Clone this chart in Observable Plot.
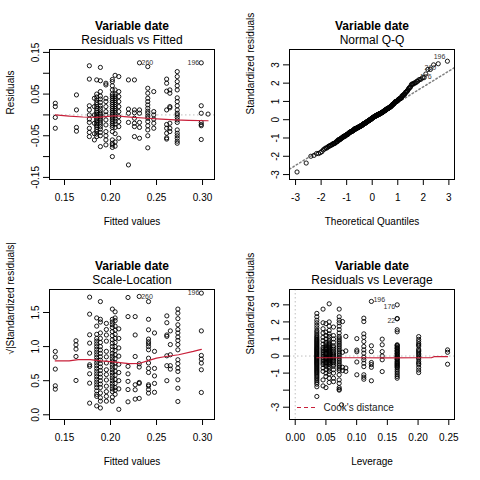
<!DOCTYPE html>
<html><head><meta charset="utf-8">
<script src="https://cdn.jsdelivr.net/npm/d3@7"></script>
<script src="https://cdn.jsdelivr.net/npm/@observablehq/plot@0.6"></script>
<style>
body{margin:0;background:#fff;}
#grid{display:grid;grid-template-columns:240px 240px;grid-template-rows:240px 240px;width:480px;height:480px;}
#grid svg{display:block}
</style></head><body><div id="grid"></div>
<script>
// ---------- Panel 1: Residuals vs Fitted ----------
const rvfFitted = [0.140, 0.163, 0.177, 0.1825, 0.185, 0.189, 0.195, 0.202, 0.205, 0.209, 0.2195, 0.226, 0.2315, 0.2405, 0.247, 0.261, 0.2645, 0.2725, 0.2986, 0.306];
const rvfResid = [
  [0.028, 0.020, -0.006, -0.032],
  [0.048, 0.012, -0.030, -0.039],
  [0.118, 0.086, 0.022, 0.012, 0.000, -0.010, -0.018, -0.032, -0.042, -0.052],
  [0.040, 0.020, 0.000, -0.020, -0.045, -0.060],
  [0.084, 0.050, 0.043, 0.036, 0.030, 0.025, 0.020, 0.015, 0.010, 0.006, 0.002, -0.002, -0.006, -0.010, -0.014, -0.018, -0.022, -0.026, -0.030, -0.035, -0.040, -0.046, -0.052],
  [0.114, 0.082, 0.056, 0.045, 0.038, 0.030, 0.022, 0.016, 0.010, 0.004, 0.000, -0.004, -0.008, -0.012, -0.017, -0.022, -0.028, -0.034, -0.042, -0.050, -0.076],
  [0.076, 0.072, 0.040, 0.032, 0.020, 0.008, 0.000, -0.012, -0.024, -0.040, -0.050, -0.060, -0.072],
  [0.085, 0.080, 0.070, 0.060, 0.050, 0.045, 0.040, 0.035, 0.030, 0.025, 0.020, 0.015, 0.010, 0.005, 0.000, -0.005, -0.010, -0.015, -0.020, -0.025, -0.030, -0.040, -0.060, -0.068, -0.072, -0.078, -0.100],
  [0.095, 0.060, 0.050, 0.045, 0.040, 0.035, 0.030, 0.025, 0.020, 0.015, 0.010, 0.005, -0.002, -0.008, -0.015, -0.022, -0.030, -0.045, -0.065, -0.075],
  [0.092, 0.056, 0.044, 0.032, 0.020, 0.008, -0.004, -0.016, -0.028, -0.056],
  [0.084, 0.014, 0.004, -0.018, -0.120],
  [0.084, 0.012, 0.005, -0.008, -0.020, -0.028, -0.052],
  [0.125, 0.012, 0.004, -0.018, -0.030, -0.056],
  [0.116, 0.064, 0.052, 0.040, 0.032, 0.024, 0.016, 0.009, 0.004, -0.003, -0.008, -0.016, -0.026, -0.036, -0.050, -0.079],
  [0.056, 0.008, 0.000, -0.010, -0.020, -0.032],
  [0.086, 0.076, 0.057, 0.012, -0.023, -0.032, -0.044, -0.055, -0.058],
  [0.060, 0.052, 0.020, 0.017, -0.020, -0.032, -0.040],
  [0.104, 0.092, 0.080, 0.070, 0.060, 0.041, 0.032, 0.022, 0.012, 0.004, 0.000, -0.006, -0.012, -0.018, -0.036, -0.044, -0.050, -0.056, -0.063, -0.068],
  [0.125, 0.022, 0.004, -0.018, -0.023, -0.026, -0.059],
  [0.002]
];
const rvfSmoothX = [0.140, 0.155, 0.170, 0.185, 0.195, 0.205, 0.215, 0.225, 0.240, 0.255, 0.270, 0.285, 0.306];
const rvfSmoothY = [0.000, -0.003, -0.005, -0.006, -0.004, -0.002, -0.004, -0.006, -0.008, -0.010, -0.012, -0.013, -0.014];
const rvfIdX = [0.2315, 0.2986];
const rvfIdY = [0.125, 0.125];
const rvfIdText = ["260", "196"];
const rvfXDomain = [0.1337, 0.313];
const rvfYDomain = [-0.155, 0.157];
const fitXTicks = [0.15, 0.20, 0.25, 0.30];
const rvfYTicks = [-0.15, -0.10, -0.05, 0, 0.05, 0.10, 0.15];
const rvfYLabels = [-0.15, -0.05, 0.05, 0.15];

// ---------- Panel 3: Scale-Location ----------
const slFitted = [0.140, 0.1625, 0.1773, 0.185, 0.189, 0.1955, 0.202, 0.205, 0.209, 0.219, 0.2268, 0.2312, 0.2413, 0.2478, 0.2612, 0.265, 0.2732, 0.2987];
const slValue = [
  [0.929, 0.846, 0.670, 0.425, 0.376],
  [1.085, 1.026, 0.963, 0.855, 0.503],
  [1.725, 1.476, 1.173, 1.051, 0.904, 0.733, 0.709, 0.601, 0.464, 0.171],
  [1.42, 1.30, 1.18, 1.12, 1.08, 1.04, 1.00, 0.96, 0.92, 0.88, 0.84, 0.80, 0.76, 0.72, 0.68, 0.64, 0.60, 0.56, 0.52, 0.48, 0.44, 0.40, 0.35, 0.30, 0.27, 0.13],
  [1.66, 1.40, 1.36, 1.20, 1.12, 1.06, 1.00, 0.95, 0.90, 0.85, 0.80, 0.75, 0.70, 0.65, 0.60, 0.55, 0.50, 0.45, 0.40, 0.32, 0.25, 0.20, 0.10],
  [1.34, 1.25, 1.17, 1.08, 0.93, 0.85, 0.76, 0.66, 0.59, 0.51, 0.42, 0.34, 0.27, 0.20],
  [1.55, 1.40, 1.36, 1.32, 1.28, 1.22, 1.16, 1.10, 1.05, 1.00, 0.95, 0.90, 0.86, 0.82, 0.78, 0.74, 0.70, 0.66, 0.62, 0.58, 0.54, 0.50, 0.46, 0.42, 0.38, 0.34, 0.26, 0.20],
  [1.51, 1.42, 1.38, 1.30, 1.24, 1.18, 1.12, 1.06, 1.00, 0.94, 0.88, 0.82, 0.76, 0.70, 0.64, 0.58, 0.52, 0.46, 0.40, 0.36, 0.30],
  [1.26, 1.12, 0.98, 0.86, 0.74, 0.62, 0.50, 0.38, 0.08],
  [1.72, 1.44, 0.71, 0.60, 0.49, 0.37, 0.19],
  [1.44, 1.17, 0.855, 0.44, 0.367, 0.23],
  [1.735, 0.748, 0.70, 0.474, 0.46, 0.24],
  [1.66, 1.40, 1.246, 1.11, 1.07, 1.04, 1.00, 0.953, 0.83, 0.76, 0.68, 0.62, 0.44, 0.42, 0.37, 0.318],
  [1.20, 0.93, 0.68, 0.57, 0.46, 0.33],
  [1.45, 1.35, 1.17, 1.15, 0.865, 0.72, 0.50],
  [1.23, 1.03, 0.88, 0.72, 0.67],
  [1.55, 1.49, 1.41, 1.32, 1.25, 1.20, 1.14, 1.09, 1.03, 0.953, 0.807, 0.75, 0.684, 0.635, 0.513, 0.39, 0.195],
  [1.784, 1.23, 0.87, 0.816, 0.758, 0.66, 0.327]
];
const slSmoothX = [0.140, 0.155, 0.165, 0.178, 0.190, 0.200, 0.210, 0.220, 0.232, 0.240, 0.250, 0.260, 0.274, 0.290, 0.2987];
const slSmoothY = [0.790, 0.790, 0.810, 0.810, 0.790, 0.780, 0.765, 0.750, 0.755, 0.790, 0.830, 0.855, 0.880, 0.930, 0.960];
const slIdX = [0.2312, 0.2987];
const slIdY = [1.735, 1.784];
const slIdText = ["260", "196"];
const slYDomain = [-0.069, 1.837];
const slYTicks = [0, 0.5, 1.0, 1.5];

// ---------- Panel 4: Residuals vs Leverage ----------
const levValues = [0.0352, 0.0453, 0.0500, 0.0553, 0.0623, 0.0716, 0.0754, 0.0770, 0.0824, 0.1003, 0.1117, 0.1240, 0.1416, 0.1660, 0.2010, 0.2480];
const levStdRes = [
  [2.50, 2.30, 2.10, 1.95, 1.80, 1.65, 1.50, 1.40, 1.30, 1.20, 1.12, 1.05, 0.98, 0.92, 0.86, 0.80, 0.74, 0.68, 0.62, 0.56, 0.50, 0.45, 0.40, 0.35, 0.30, 0.25, 0.20, 0.15, 0.10, 0.05, 0.00, -0.05, -0.10, -0.15, -0.20, -0.25, -0.30, -0.35, -0.40, -0.45, -0.50, -0.56, -0.62, -0.68, -0.74, -0.80, -0.86, -0.92, -0.98, -1.05, -1.12, -1.20, -1.28, -1.36, -1.45, -1.55, -1.65, -1.80, -2.37],
  [2.75, 1.95, 1.60, 1.35, 1.10, 0.90, 0.70, 0.50, 0.40, 0.30, 0.20, 0.10, 0.00, -0.10, -0.20, -0.30, -0.40, -0.50, -0.70, -0.90, -1.40, -1.75],
  [1.90, 1.40, 1.20, 1.00, 0.80, 0.70, 0.60, 0.50, 0.45, 0.38, 0.30, 0.22, 0.15, 0.08, 0.00, -0.08, -0.15, -0.22, -0.30, -0.38, -0.45, -0.52, -0.60, -0.80, -1.00, -1.20, -1.85],
  [3.06, 2.00, 1.75, 1.50, 1.30, 1.15, 1.00, 0.88, 0.76, 0.70, 0.64, 0.58, 0.52, 0.47, 0.42, 0.37, 0.32, 0.27, 0.22, 0.17, 0.12, 0.07, 0.02, -0.03, -0.08, -0.13, -0.18, -0.23, -0.28, -0.33, -0.38, -0.44, -0.50, -0.62, -0.75, -0.90, -1.05, -1.30, -1.55],
  [1.70, 1.20, 1.00, 0.80, 0.60, 0.50, 0.40, 0.30, 0.20, 0.12, 0.05, -0.02, -0.10, -0.18, -0.25, -0.32, -0.40, -0.50, -0.60, -0.80, -1.00, -1.30, -1.50],
  [2.75, 2.30, 2.10, 1.95, 1.75, 1.55, 1.35, 1.15, 1.05, 0.95, 0.85, 0.75, 0.65, 0.55, 0.45, 0.35, 0.25, 0.15, 0.05, -0.05, -0.15, -0.25, -0.35, -0.45, -0.55, -0.65, -0.75, -0.85, -1.10, -1.40, -1.60, -1.85, -1.95, -2.00],
  [-2.86],
  [2.02, 0.22, -0.66, -0.85],
  [1.15, 0.30, -0.70, -0.90],
  [1.02, 0.35, 0.25, -0.35, -1.10],
  [2.22, 2.02, 1.30, 1.10, 0.85, 0.56, 0.36, 0.17, -0.07, -0.22, -0.42, -0.62, -1.10, -1.24, -1.36],
  [3.20, 0.60, 0.26, -0.38, -0.50, -0.66, -1.45],
  [0.99, 0.66, 0.26, 0.00, -0.22, -0.91],
  [3.00, 2.20, 2.18, 1.54, 1.42, 0.66, 0.62, 0.58, 0.50, 0.46, 0.42, 0.34, 0.30, 0.26, 0.18, 0.14, 0.10, 0.02, -0.02, -0.06, -0.14, -0.18, -0.22, -0.30, -0.35, -0.40, -0.45, -0.50, -0.55, -0.60, -0.65, -0.70, -0.80, -0.90, -1.00, -1.10, -1.20, -1.30],
  [1.14, 0.98, 0.85, 0.72, 0.65, 0.58, 0.40, 0.32, 0.25, 0.16, 0.08, -0.02, -0.10, -0.18, -0.33, -0.42, -0.50, -0.66, -0.82, -0.97],
  [0.36, 0.22, -0.48]
];
const levSmoothX = [0.0352, 0.100, 0.150, 0.200, 0.222, 0.226, 0.248];
const levSmoothY = [-0.10, -0.10, -0.11, -0.10, -0.09, -0.04, -0.04];
const levIdX = [0.1240, 0.1660, 0.1660];
const levIdY = [3.20, 3.00, 2.18];
const levIdText = ["196", "176", "22"];
const levIdSide = ["right", "left", "left"];
const levXDomain = [-0.0093, 0.2593];
const levYDomain = [-3.72, 3.90];
const levXTicks = [0, 0.05, 0.10, 0.15, 0.20, 0.25];
const levYTicks = [-3, -2, -1, 0, 1, 2, 3];
const levYLabels = [-3, -1, 0, 1, 2, 3];

// ---------- Panel 2: Normal Q-Q (same standardized residuals) ----------
const qqIdText = ["196", "260", "176"];
const qqXDomain = [-3.237, 3.22];
const qqYDomain = [-3.27, 3.84];
const qqTicks = [-3, -2, -1, 0, 1, 2, 3];

// ---------- helpers ----------
const RED = "#C8203A";
const FONT = "'Liberation Sans', Arial, Helvetica, sans-serif";

function qnorm(p) {
  const a=[-3.969683028665376e+01,2.209460984245205e+02,-2.759285104469687e+02,1.383577518672690e+02,-3.066479806614716e+01,2.506628277459239e+00];
  const b=[-5.447609879822406e+01,1.615858368580409e+02,-1.556989798598866e+02,6.680131188771972e+01,-1.328068155288572e+01];
  const c=[-7.784894002430293e-03,-3.223964580411365e-01,-2.400758277161838e+00,-2.549732539343734e+00,4.374664141464968e+00,2.938163982698783e+00];
  const d=[7.784695709041462e-03,3.224671290700398e-01,2.445134137142996e+00,3.754408661907416e+00];
  const pl = 0.02425, ph = 1 - pl;
  let q, r;
  if (p < pl) { q = Math.sqrt(-2*Math.log(p)); return (((((c[0]*q+c[1])*q+c[2])*q+c[3])*q+c[4])*q+c[5])/((((d[0]*q+d[1])*q+d[2])*q+d[3])*q+1); }
  if (p <= ph) { q = p - 0.5; r = q*q; return (((((a[0]*r+a[1])*r+a[2])*r+a[3])*r+a[4])*r+a[5])*q/(((((b[0]*r+b[1])*r+b[2])*r+b[3])*r+b[4])*r+1); }
  q = Math.sqrt(-2*Math.log(1-p)); return -(((((c[0]*q+c[1])*q+c[2])*q+c[3])*q+c[4])*q+c[5])/((((d[0]*q+d[1])*q+d[2])*q+d[3])*q+1);
}

function columns(xs, ys) {
  return xs.flatMap((x, i) => ys[i].map(y => ({x, y})));
}
function zipXY(xs, ys, extra) {
  return xs.map((x, i) => ({x, y: ys[i], t: extra ? extra[i] : null}));
}
const dotOpts = {x: "x", y: "y", r: 2.1, stroke: "black", strokeWidth: 0.9, fill: "none"};
const idOpts = (anchor, dy = 0) => ({x: "x", y: "y", text: "t", fontSize: 7, fill: "#333", dy,
  textAnchor: anchor === "left" ? "end" : "start", dx: anchor === "left" ? -2 : 2});

function panel({title, subtitle, xDomain, yDomain, xTicks, xLabels, xFmt, yTicks, yLabels, yFmt, xTitle, yTitle, marks}) {
  return Plot.plot({
    width: 240, height: 240,
    marginLeft: 49, marginRight: 26, marginTop: 49, marginBottom: 61,
    x: {domain: xDomain},
    y: {domain: yDomain},
    style: {fontFamily: FONT, fontSize: "10px", background: "white", color: "black", overflow: "visible"},
    marks: [
      ...marks,
      Plot.frame({stroke: "black", strokeWidth: 1}),
      Plot.axisX(xTicks, {tickSize: 6, tickPadding: 8, fontSize: 10, label: null,
        tickFormat: d => (xLabels.includes(d) ? xFmt(d) : "")}),
      Plot.axisY(yTicks, {tickSize: 6, tickPadding: 5, tickRotate: -90, fontSize: 10, label: null,
        tickFormat: d => (yLabels.includes(d) ? yFmt(d) : "")}),
      Plot.text([title], {text: d => d, frameAnchor: "top", lineAnchor: "middle", dy: -23, fontWeight: "bold", fontSize: 12}),
      Plot.text([subtitle], {text: d => d, frameAnchor: "top", lineAnchor: "middle", dy: -9.5, fontSize: 12}),
      Plot.text([xTitle], {text: d => d, frameAnchor: "bottom", lineAnchor: "middle", dy: 42, fontSize: 10}),
      Plot.text([yTitle], {text: d => d, frameAnchor: "left", lineAnchor: "middle", dx: -39, rotate: -90, fontSize: 10})
    ]
  });
}

const f2 = d => d.toFixed(2);
const f1 = d => d.toFixed(1);
const f0 = d => String(d);

// Panel 1
const p1 = panel({
  title: "Variable date", subtitle: "Residuals vs Fitted",
  xDomain: rvfXDomain, yDomain: rvfYDomain,
  xTicks: fitXTicks, xLabels: fitXTicks, xFmt: f2,
  yTicks: rvfYTicks, yLabels: rvfYLabels, yFmt: f2,
  xTitle: "Fitted values", yTitle: "Residuals",
  marks: [
    Plot.ruleY([0], {stroke: "#BEBEBE", strokeDasharray: "1.5,2.5"}),
    Plot.dot(columns(rvfFitted, rvfResid), dotOpts),
    Plot.line(zipXY(rvfSmoothX, rvfSmoothY), {x: "x", y: "y", stroke: RED, strokeWidth: 1.2}),
    Plot.text(zipXY(rvfIdX, rvfIdY, rvfIdText).slice(0, 1), idOpts("right")),
    Plot.text(zipXY(rvfIdX, rvfIdY, rvfIdText).slice(1), idOpts("left"))
  ]
});

// Panel 2 (Q-Q): standardized residuals from the leverage panel
const stdAll = levStdRes.flat().slice().sort((a, b) => a - b);
const nStd = stdAll.length;
const qqPoints = stdAll.map((y, i) => ({x: qnorm((i + 1 - 0.5) / nStd), y}));
const yq1 = d3.quantile(stdAll, 0.25), yq3 = d3.quantile(stdAll, 0.75);
const xq1 = qnorm(0.25), xq3 = qnorm(0.75);
const qqSlope = (yq3 - yq1) / (xq3 - xq1), qqInt = yq1 - qqSlope * xq1;
const qqLine = qqXDomain.map(x => ({x, y: qqInt + qqSlope * x}));
const qqIds = qqPoints.slice(-3).reverse().map((d, i) => ({...d, t: qqIdText[i]}));

const p2 = panel({
  title: "Variable date", subtitle: "Normal Q-Q",
  xDomain: qqXDomain, yDomain: qqYDomain,
  xTicks: qqTicks, xLabels: qqTicks, xFmt: f0,
  yTicks: qqTicks, yLabels: qqTicks, yFmt: f0,
  xTitle: "Theoretical Quantiles", yTitle: "Standardized residuals",
  marks: [
    Plot.line(qqLine, {x: "x", y: "y", stroke: "#7F7F7F", strokeDasharray: "1.5,2.5", clip: true}),
    Plot.dot(qqPoints, dotOpts),
    Plot.text(qqIds.slice(0, 1), idOpts("left", -4)),
    Plot.text(qqIds.slice(1, 2), idOpts("left", 4)),
    Plot.text(qqIds.slice(2, 3), idOpts("left", 12))
  ]
});

// Panel 3
const p3 = panel({
  title: "Variable date", subtitle: "Scale-Location",
  xDomain: rvfXDomain, yDomain: slYDomain,
  xTicks: fitXTicks, xLabels: fitXTicks, xFmt: f2,
  yTicks: slYTicks, yLabels: slYTicks, yFmt: f1,
  xTitle: "Fitted values", yTitle: "√|Standardized residuals|",
  marks: [
    Plot.dot(columns(slFitted, slValue), dotOpts),
    Plot.line(zipXY(slSmoothX, slSmoothY), {x: "x", y: "y", stroke: RED, strokeWidth: 1.2}),
    Plot.text(zipXY(slIdX, slIdY, slIdText).slice(0, 1), idOpts("right")),
    Plot.text(zipXY(slIdX, slIdY, slIdText).slice(1), idOpts("left"))
  ]
});

// Panel 4
const levIds = zipXY(levIdX, levIdY, levIdText);
const p4 = panel({
  title: "Variable date", subtitle: "Residuals vs Leverage",
  xDomain: levXDomain, yDomain: levYDomain,
  xTicks: levXTicks, xLabels: levXTicks, xFmt: f2,
  yTicks: levYTicks, yLabels: levYLabels, yFmt: f0,
  xTitle: "Leverage", yTitle: "Standardized residuals",
  marks: [
    Plot.ruleY([0], {stroke: "#BEBEBE", strokeDasharray: "1.5,2.5"}),
    Plot.ruleX([0], {stroke: "#BEBEBE", strokeDasharray: "1.5,2.5"}),
    Plot.dot(columns(levValues, levStdRes), dotOpts),
    Plot.line(zipXY(levSmoothX, levSmoothY), {x: "x", y: "y", stroke: RED, strokeWidth: 1.2}),
    Plot.text(levIds.filter((d, i) => levIdSide[i] === "right"), idOpts("right", -2)),
    Plot.text(levIds.filter((d, i) => levIdSide[i] === "left"), idOpts("left", 2)),
    Plot.text(["Cook's distance"], {text: d => d, frameAnchor: "bottom-left", lineAnchor: "middle", dx: 34, dy: -11.5, textAnchor: "start", fontSize: 10, fill: "#222"})
  ]
});
// legend key (dashed red sample) for Cook's distance
d3.select(p4).append("line")
  .attr("x1", 57).attr("x2", 77).attr("y1", 167.5).attr("y2", 167.5)
  .attr("stroke", RED).attr("stroke-width", 1.2).attr("stroke-dasharray", "4,3");

const grid = document.getElementById("grid");
[p1, p2, p3, p4].forEach(p => grid.appendChild(p));
</script>
</body></html>
